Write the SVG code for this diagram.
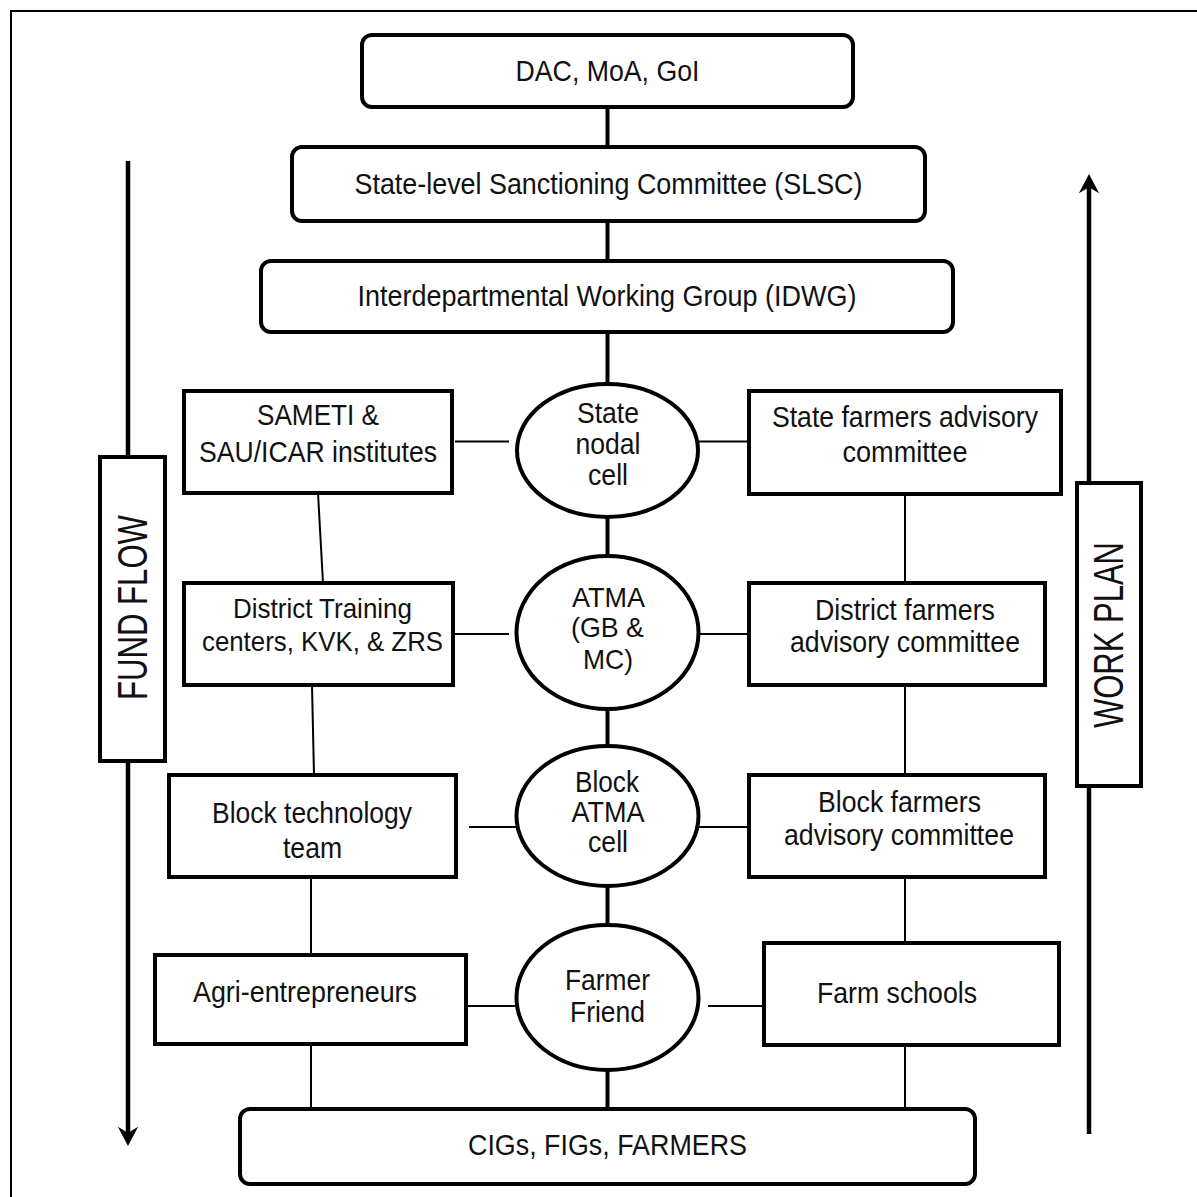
<svg xmlns="http://www.w3.org/2000/svg" width="1197" height="1197" viewBox="0 0 1197 1197">
<defs>
<style>
.bx{fill:#fff;stroke:#000;stroke-width:4}
.el{fill:#fff;stroke:#000;stroke-width:4}
.thick{stroke:#000;stroke-width:4;fill:none}
.thin{stroke:#000;stroke-width:2;fill:none}
.arr{stroke:#000;stroke-width:4.5;fill:none}
.t{font-family:"Liberation Sans",Arial,sans-serif;font-size:30px;fill:#111;text-anchor:middle}
.s{font-size:28px}
.big{font-family:"Liberation Sans",Arial,sans-serif;font-size:42px;fill:#111;text-anchor:middle}
</style>
<marker id="ah" markerUnits="userSpaceOnUse" markerWidth="30" markerHeight="30" viewBox="-24 -13 34 26" refX="-8" refY="0" orient="auto">
<path d="M0,0 L-22,-11.5 L-15,0 L-22,11.5 Z" fill="#000"/>
</marker>
</defs>
<rect x="0" y="0" width="1197" height="1197" fill="#fff"/>
<path d="M11,1197 V11 H1197" fill="none" stroke="#000" stroke-width="2"/>

<g id="connectors">
<line class="thick" x1="607.5" y1="109" x2="607.5" y2="147"/>
<line class="thick" x1="607.5" y1="221" x2="607.5" y2="261"/>
<line class="thick" x1="607.5" y1="332" x2="607.5" y2="384"/>
<line class="thick" x1="607.5" y1="517" x2="607.5" y2="556"/>
<line class="thick" x1="607.5" y1="709" x2="607.5" y2="747"/>
<line class="thick" x1="607.5" y1="885" x2="607.5" y2="925"/>
<line class="thick" x1="607.5" y1="1070" x2="607.5" y2="1109"/>
<line class="thin" x1="455" y1="441.5" x2="509" y2="441.5"/>
<line class="thin" x1="695" y1="441.5" x2="749" y2="441.5"/>
<line class="thin" x1="455" y1="634" x2="509" y2="634"/>
<line class="thin" x1="695" y1="634" x2="749" y2="634"/>
<line class="thin" x1="469" y1="827" x2="518" y2="827"/>
<line class="thin" x1="695" y1="827" x2="749" y2="827"/>
<line class="thin" x1="466" y1="1006" x2="516" y2="1006"/>
<line class="thin" x1="708" y1="1006" x2="764" y2="1006"/>
<line class="thin" x1="318" y1="493" x2="323" y2="583"/>
<line class="thin" x1="312" y1="685" x2="314" y2="775"/>
<line class="thin" x1="311" y1="877" x2="311" y2="955"/>
<line class="thin" x1="311" y1="1044" x2="311" y2="1109"/>
<line class="thin" x1="905" y1="494" x2="905" y2="583"/>
<line class="thin" x1="905" y1="685" x2="905" y2="775"/>
<line class="thin" x1="905" y1="877" x2="905" y2="943"/>
<line class="thin" x1="905" y1="1045" x2="905" y2="1109"/>
<line class="arr" x1="128" y1="161" x2="128" y2="1139" marker-end="url(#ah)"/>
<line class="arr" x1="1089" y1="1134" x2="1089" y2="181" marker-end="url(#ah)"/>
</g>

<g id="fund-flow">
<rect class="bx" x="100" y="457" width="65" height="304"/>
<text class="big" transform="translate(147,607.5) rotate(-90)" textLength="185" lengthAdjust="spacingAndGlyphs">FUND FLOW</text>
</g>
<g id="work-plan">
<rect class="bx" x="1077" y="483" width="64" height="303"/>
<text class="big" transform="translate(1123,635) rotate(-90)" textLength="186" lengthAdjust="spacingAndGlyphs">WORK PLAN</text>
</g>

<g id="dac">
<rect class="bx" x="362" y="35" width="491" height="72" rx="10"/>
<text class="t" x="607.5" y="81" textLength="184" lengthAdjust="spacingAndGlyphs">DAC, MoA, GoI</text>
</g>
<g id="slsc">
<rect class="bx" x="292" y="147" width="633" height="74" rx="10"/>
<text class="t" x="608.5" y="194" textLength="508" lengthAdjust="spacingAndGlyphs">State-level Sanctioning Committee (SLSC)</text>
</g>
<g id="idwg">
<rect class="bx" x="261" y="261" width="692" height="71" rx="10"/>
<text class="t" x="607" y="306" textLength="499" lengthAdjust="spacingAndGlyphs">Interdepartmental Working Group (IDWG)</text>
</g>

<g id="sameti">
<rect class="bx" x="184" y="391" width="268" height="102"/>
<text class="t" x="318" y="425" textLength="122" lengthAdjust="spacingAndGlyphs">SAMETI &amp;</text>
<text class="t" x="318" y="462" textLength="238" lengthAdjust="spacingAndGlyphs">SAU/ICAR institutes</text>
</g>
<g id="state-nodal">
<ellipse class="el" cx="607.5" cy="450.5" rx="90.5" ry="66.5"/>
<text class="t" x="608" y="423" textLength="62" lengthAdjust="spacingAndGlyphs">State</text>
<text class="t" x="608" y="454" textLength="65" lengthAdjust="spacingAndGlyphs">nodal</text>
<text class="t" x="608" y="485" textLength="40" lengthAdjust="spacingAndGlyphs">cell</text>
</g>
<g id="state-farmers">
<rect class="bx" x="749" y="391" width="312" height="103"/>
<text class="t" x="905" y="427" textLength="266" lengthAdjust="spacingAndGlyphs">State farmers advisory</text>
<text class="t" x="905" y="462" textLength="125" lengthAdjust="spacingAndGlyphs">committee</text>
</g>

<g id="district-training">
<rect class="bx" x="184" y="583" width="269" height="102"/>
<text class="t s" x="322.5" y="618" textLength="179" lengthAdjust="spacingAndGlyphs">District Training</text>
<text class="t s" x="322.5" y="651" textLength="241" lengthAdjust="spacingAndGlyphs">centers, KVK, &amp; ZRS</text>
</g>
<g id="atma">
<ellipse class="el" cx="607.5" cy="632.5" rx="91" ry="76.5"/>
<text class="t s" x="608.5" y="607" textLength="73" lengthAdjust="spacingAndGlyphs">ATMA</text>
<text class="t s" x="607.5" y="637" textLength="73" lengthAdjust="spacingAndGlyphs">(GB &amp;</text>
<text class="t s" x="608" y="669" textLength="50" lengthAdjust="spacingAndGlyphs">MC)</text>
</g>
<g id="district-farmers">
<rect class="bx" x="749" y="583" width="296" height="102"/>
<text class="t" x="905" y="620" textLength="180" lengthAdjust="spacingAndGlyphs">District farmers</text>
<text class="t" x="905" y="652" textLength="230" lengthAdjust="spacingAndGlyphs">advisory committee</text>
</g>

<g id="block-tech">
<rect class="bx" x="169" y="775" width="287" height="102"/>
<text class="t" x="312" y="823" textLength="200" lengthAdjust="spacingAndGlyphs">Block technology</text>
<text class="t" x="312.5" y="858" textLength="59" lengthAdjust="spacingAndGlyphs">team</text>
</g>
<g id="block-atma">
<ellipse class="el" cx="607.5" cy="816" rx="91" ry="70"/>
<text class="t" x="607" y="792" textLength="64" lengthAdjust="spacingAndGlyphs">Block</text>
<text class="t" x="608" y="822" textLength="73" lengthAdjust="spacingAndGlyphs">ATMA</text>
<text class="t" x="608" y="852" textLength="40" lengthAdjust="spacingAndGlyphs">cell</text>
</g>
<g id="block-farmers">
<rect class="bx" x="749" y="775" width="296" height="102"/>
<text class="t" x="899.5" y="812" textLength="163" lengthAdjust="spacingAndGlyphs">Block farmers</text>
<text class="t" x="899" y="845" textLength="230" lengthAdjust="spacingAndGlyphs">advisory committee</text>
</g>

<g id="agri">
<rect class="bx" x="155" y="955" width="311" height="89"/>
<text class="t" x="305" y="1002" textLength="224" lengthAdjust="spacingAndGlyphs">Agri-entrepreneurs</text>
</g>
<g id="farmer-friend">
<ellipse class="el" cx="607.5" cy="997.5" rx="91" ry="72.5"/>
<text class="t" x="607.5" y="990" textLength="85" lengthAdjust="spacingAndGlyphs">Farmer</text>
<text class="t" x="607.5" y="1022" textLength="75" lengthAdjust="spacingAndGlyphs">Friend</text>
</g>
<g id="farm-schools">
<rect class="bx" x="764" y="943" width="295" height="102"/>
<text class="t" x="897" y="1003" textLength="160" lengthAdjust="spacingAndGlyphs">Farm schools</text>
</g>

<g id="cigs">
<rect class="bx" x="240" y="1109" width="735" height="75" rx="10"/>
<text class="t" x="607.5" y="1155" textLength="279" lengthAdjust="spacingAndGlyphs">CIGs, FIGs, FARMERS</text>
</g>
</svg>
